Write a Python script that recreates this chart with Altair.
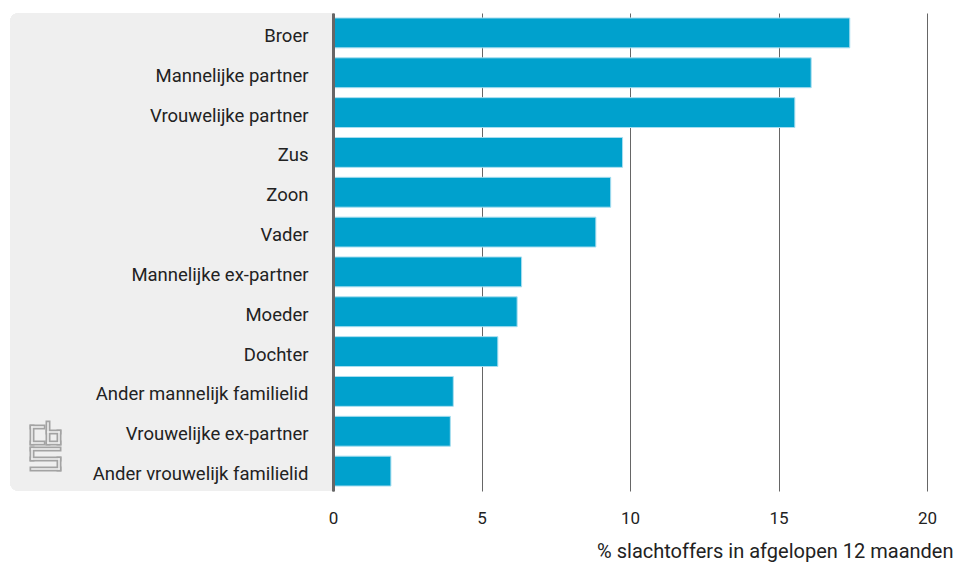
import altair as alt
import pandas as pd

categories = [
    "Broer", "Mannelijke partner", "Vrouwelijke partner", "Zus", "Zoon", "Vader",
    "Mannelijke ex-partner", "Moeder", "Dochter", "Ander mannelijk familielid",
    "Vrouwelijke ex-partner", "Ander vrouwelijk familielid",
]
values = [17.4, 16.1, 15.55, 9.75, 9.35, 8.85, 6.35, 6.2, 5.55, 4.05, 3.95, 1.95]
x_ticks = [0, 5, 10, 15, 20]

df = pd.DataFrame({"relatie": categories, "pct": values})

W, H = 594, 478
FONT = "Roboto"

bg = alt.Chart(df).mark_rect(
    color="#efefef", cornerRadiusTopLeft=9, cornerRadiusBottomLeft=9
).encode(
    x=alt.value(-323), x2=alt.value(0), y=alt.value(0), y2=alt.value(H)
)

# decorative logo (double-line glyph), in pixels relative to the logo corner
LX, LY = -303, 410
logo_paths = [
    [(13, 4), (2, 4), (2, 20), (13, 20)],
    [(18, 0), (18, 20), (29, 20), (29, 9), (18, 9)],
    [(29, 26), (2, 26), (2, 36), (29, 36), (29, 46), (2, 46)],
]
logo_layers = []
for color, sw in [("#a3a3a3", 5), ("#efefef", 1.6)]:
    for path in logo_paths:
        for (x1, y1), (x2, y2) in zip(path[:-1], path[1:]):
            logo_layers.append(
                alt.Chart(df.head(1)).mark_rule(color=color, strokeWidth=sw, strokeCap="square")
                .encode(x=alt.value(LX + x1), x2=alt.value(LX + x2),
                        y=alt.value(LY + y1), y2=alt.value(LY + y2))
            )

bars = alt.Chart(df).mark_bar(
    color="#00a1cd", stroke="#a8def0", strokeWidth=1
).encode(
    x=alt.X("pct:Q",
            scale=alt.Scale(domain=[0, 20], nice=False),
            axis=alt.Axis(values=x_ticks, title="% slachtoffers in afgelopen 12 maanden",
                          grid=True, gridColor="#666666", gridWidth=1,
                          domain=False, ticks=False, labelPadding=19, labelFlush=False,
                          labelFontSize=17, labelColor="#222222", labelFont=FONT,
                          titleFont=FONT, titleFontSize=20, titleFontWeight="normal",
                          titleColor="#222222", titleAnchor="end", titleAlign="right",
                          titleX=W + 26, titleY=70, titleBaseline="bottom")),
    y=alt.Y("relatie:N", sort=categories,
            scale=alt.Scale(paddingInner=0.25, paddingOuter=0.125),
            axis=alt.Axis(title=None, ticks=False, domain=True, domainColor="#666666",
                          domainWidth=3, labelPadding=25, labelFontSize=18.5,
                          labelOffset=3,
                          labelColor="#222222", labelFont=FONT, grid=False,
                          labelLimit=400, zindex=1)),
)

chart = alt.layer(bg, *logo_layers, bars).properties(
    width=W, height=H,
    padding={"left": 2, "top": 5, "right": 0, "bottom": 2},
).configure_view(stroke=None)

chart.save("out.html", embed_options={"renderer": "svg", "actions": False})
